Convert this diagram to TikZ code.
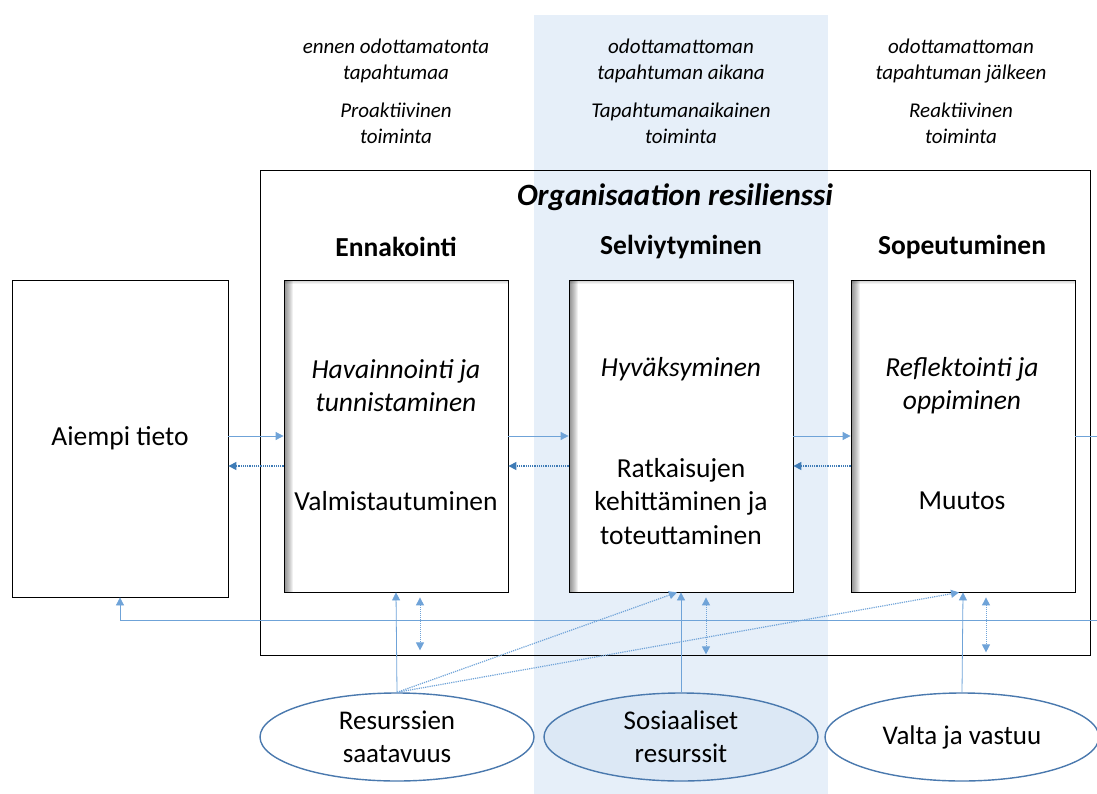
\documentclass[tikz,border=0pt]{standalone}
\usepackage{fontspec}
\setmainfont{Carlito}
\usetikzlibrary{arrows.meta, positioning, shapes}
\definecolor{bandblue}{HTML}{E6EFF9}
\definecolor{lineblue}{HTML}{6FA3D8}
\definecolor{dotblue}{HTML}{3E7BB6}
\definecolor{ringblue}{HTML}{4A79AE}
\definecolor{fillblue}{HTML}{DCE8F5}

\begin{document}
\begin{tikzpicture}[x=1pt, y=-1pt,
    phase/.style={rectangle, draw, thick, fill=white, minimum width=224pt, minimum height=312pt,
        path picture={
            \foreach \i in {1,...,9}
                \fill[black, opacity=0.06] (path picture bounding box.north west) rectangle ([xshift=\i pt]path picture bounding box.south west);
            \foreach \i in {1,...,4}
                \fill[black, opacity=0.05] (path picture bounding box.north west) rectangle ([yshift=-\i pt]path picture bounding box.north east);
        }},
    resource/.style={ellipse, draw=ringblue, line width=1.4pt, fill=white, minimum width=274pt, minimum height=88pt,
        align=center, font=\fontsize{27}{33}\selectfont},
    toptext/.style={align=center, font=\fontsize{21}{26}\selectfont\itshape},
    boxtext/.style={align=center, font=\fontsize{27.5}{33.5}\selectfont},
    head/.style={font=\fontsize{27.5}{30}\selectfont\bfseries},
    arrow/.style={-{Triangle[length=8pt, width=8pt]}, lineblue, line width=0.8pt},
    back/.style={-{Triangle[length=8pt, width=8pt]}, dotblue, densely dotted, line width=1.2pt},
    both/.style={{Triangle[length=8pt, width=8pt]}-{Triangle[length=8pt, width=8pt]}, lineblue, densely dotted, line width=1pt}
]
    \useasboundingbox (0,0) rectangle (1097,794);
    \fill[bandblue] (534,15) rectangle (828,794);

    % time of the event
    \node[toptext] (pre) at (396,61) {ennen odottamatonta\\tapahtumaa};
    \node[toptext] (during) at (681,61) {odottamattoman\\tapahtuman aikana};
    \node[toptext] (post) at (961,61) {odottamattoman\\tapahtuman jälkeen};
    \node[toptext] (pro) at (396,123) {Proaktiivinen\\toiminta};
    \node[toptext] (inter) at (681,123) {Tapahtumanaikainen\\toiminta};
    \node[toptext] (re) at (961,123) {Reaktiivinen\\toiminta};

    \node[draw, thick, minimum width=830pt, minimum height=485pt] (org) at (675,412.5) {};
    \node[font=\fontsize{31}{36}\selectfont\bfseries\itshape] (title) at (675,197) {Organisaation resilienssi};
    \node[head] (ennak) at (396,247) {Ennakointi};
    \node[head] (selv) at (681,247) {Selviytyminen};
    \node[head] (sopeu) at (962,247) {Sopeutuminen};

    \node[draw, thick, minimum width=216pt, minimum height=317pt] (aiempi) at (120,438.5) {};
    \node[boxtext] at (aiempi) {Aiempi tieto};
    \node[phase] (havainto) at (396,436) {};
    \node[phase] (hyvaks) at (681,436) {};
    \node[phase] (reflekt) at (963,436) {};

    \node[boxtext, font=\fontsize{27.5}{33.5}\selectfont\itshape] at (396,385.5) {Havainnointi ja\\tunnistaminen};
    \node[boxtext] at (396,501) {Valmistautuminen};
    \node[boxtext, font=\fontsize{27.5}{33.5}\selectfont\itshape] at (681,369) {Hyväksyminen};
    \node[boxtext] at (681,501.5) {Ratkaisujen\\kehittäminen ja\\toteuttaminen};
    \node[boxtext, font=\fontsize{27.5}{33.5}\selectfont\itshape] at (962,385.5) {Reflektointi ja\\oppiminen};
    \node[boxtext] at (962,501) {Muutos};

    \node[resource] (saata) at (397,737) {Resurssien\\saatavuus};
    \node[resource, fill=fillblue] (sosiaal) at (681,737) {Sosiaaliset\\resurssit};
    \node[resource] (valta) at (962,737) {Valta ja vastuu};

    \coordinate (outright) at (1097,436);
    \coordinate (inright) at (1097,620);

    % forward and backward flow
    \draw[arrow] ([yshift=2.5pt]aiempi.east) -- (havainto.west);
    \draw[arrow] (havainto.east) -- (hyvaks.west);
    \draw[arrow] (hyvaks.east) -- (reflekt.west);
    \draw[lineblue, line width=0.8pt] (reflekt.east) -- (outright);
    \draw[back] ([yshift=-30pt]havainto.west) -- ([yshift=-30pt]havainto.west -| aiempi.east);
    \draw[back] ([yshift=-30pt]hyvaks.west) -- ([yshift=-30pt]havainto.east);
    \draw[back] ([yshift=-30pt]reflekt.west) -- ([yshift=-30pt]hyvaks.east);
    \draw[arrow] (inright) -| (aiempi.south);

    % resources
    \draw[arrow] (saata.north) -- (havainto.south);
    \draw[arrow] (sosiaal.north) -- (hyvaks.south);
    \draw[arrow] (valta.north) -- (reflekt.south);
    \draw[back, lineblue] (saata.north) -- ([xshift=-4pt]hyvaks.south);
    \draw[back, lineblue] (saata.north) -- ([xshift=-4pt]reflekt.south);
    \draw[both] ([xshift=24pt, yshift=-5pt]havainto.south) -- ([xshift=24pt, yshift=5pt]havainto.south |- org.south);
    \draw[both] ([xshift=25pt, yshift=-5pt]hyvaks.south) -- ([xshift=25pt, yshift=1pt]hyvaks.south |- org.south);
    \draw[both] ([xshift=23pt, yshift=-5pt]reflekt.south) -- ([xshift=23pt, yshift=3pt]reflekt.south |- org.south);
\end{tikzpicture}
\end{document}
